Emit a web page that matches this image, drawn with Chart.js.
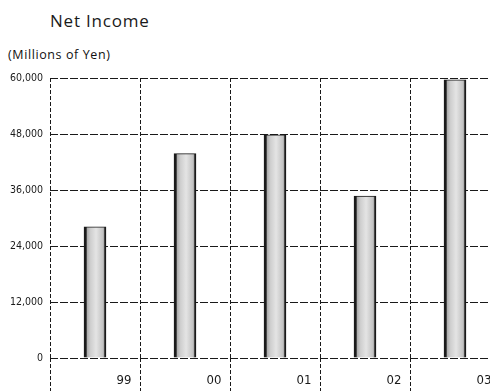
<!DOCTYPE html>
<html>
<head>
<meta charset="utf-8">
<script src="https://cdn.jsdelivr.net/npm/chart.js@4/dist/chart.umd.min.js"></script>
<style>
  html, body { margin: 0; padding: 0; background: #fff; overflow: hidden; width: 490px; height: 391px; }
  #wrap { position: absolute; left: 0; top: 0; width: 500px; height: 391px; }
  .title { position: absolute; left: 50px; top: 9px; font: 400 17px "Open Sans", sans-serif; letter-spacing: 0.8px; color: #1a1a1a; white-space: nowrap; }
  .unit { position: absolute; left: 8px; top: 46px; font: 12.5px "Open Sans", sans-serif; letter-spacing: 0.6px; color: #111; white-space: nowrap; }
</style>
</head>
<body>
<div class="title">Net Income</div>
<div class="unit">(Millions of Yen)</div>
<div id="wrap"><canvas id="c"></canvas></div>
<script>
// Fiscal years and net income (millions of yen)
const years = ['99', '00', '01', '02', '03'];
const netIncome = [28100, 43800, 47800, 34700, 59600];
const yTicks = [0, 12000, 24000, 36000, 48000, 60000];

const ink = '#1a1a1a';
const narrow = "'DejaVu Sans Condensed', 'Liberation Sans Narrow', sans-serif";
const BAR_W = 22;

// Bar fill: shaded edges, pale grey body
function barFill(ctx) {
  const xScale = ctx.chart.scales.x;
  if (!xScale || ctx.dataIndex === undefined) return '#d0d0d0';
  const cx = xScale.getPixelForValue(ctx.dataIndex);
  if (!isFinite(cx)) return '#d0d0d0';
  const g = ctx.chart.ctx.createLinearGradient(cx - BAR_W / 2, 0, cx + BAR_W / 2, 0);
  g.addColorStop(0, '#8c8c8c');
  g.addColorStop(0.3, '#cfcfcf');
  g.addColorStop(0.55, '#e4e4e4');
  g.addColorStop(0.85, '#c4c4c4');
  g.addColorStop(1, '#7e7e7e');
  return g;
}

new Chart(document.getElementById('c'), {
  type: 'bar',
  data: {
    labels: years,
    datasets: [{
      data: netIncome,
      backgroundColor: barFill,
      borderColor: ink,
      borderWidth: { left: 3, right: 2, top: 1, bottom: 0 },
      barThickness: BAR_W
    }]
  },
  options: {
    responsive: true,
    maintainAspectRatio: false,
    animation: false,
    layout: { padding: { top: 78, right: 0, bottom: 0, left: 0 } },
    plugins: { legend: { display: false }, tooltip: { enabled: false } },
    scales: {
      x: {
        grid: { color: ink, lineWidth: 1, tickLength: 33, tickBorderDash: [4, 2], tickColor: ink },
        border: { display: false, dash: [4, 2] },
        ticks: { color: ink, font: { family: narrow, size: 13 }, padding: -18, labelOffset: 29 },
        afterFit(scale) { scale.height = 33; }
      },
      y: {
        min: 0,
        max: 60000,
        afterBuildTicks(scale) { scale.ticks = yTicks.map(v => ({ value: v })); },
        grid: { color: ink, lineWidth: 1, drawTicks: false },
        border: { display: false, dash: [8, 2] },
        ticks: {
          color: ink,
          font: { family: narrow, size: 10.5 },
          padding: 7,
          callback: v => v.toLocaleString('en-US')
        },
        afterFit(scale) { scale.width = 50; }
      }
    }
  }
});
</script>
</body>
</html>
